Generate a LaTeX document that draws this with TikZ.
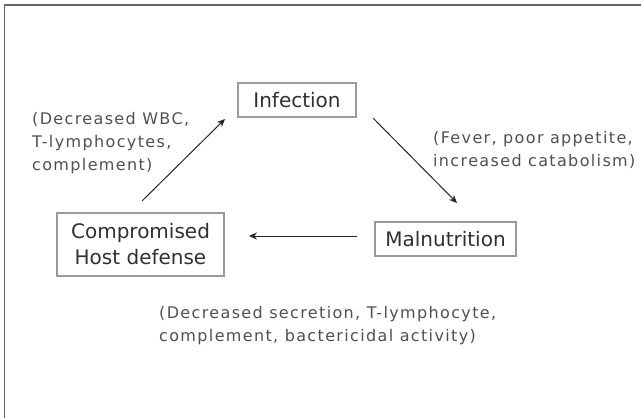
\documentclass[tikz,border=0pt]{standalone}
\usepackage{fontspec}
\setmainfont{DejaVu Sans}
\newfontfamily\notefont[LetterSpace=8.5]{DejaVu Sans}
\usetikzlibrary{arrows.meta}
\definecolor{labgray}{HTML}{303030}
\definecolor{notegray}{HTML}{505050}
\definecolor{boxgray}{HTML}{9A9A9A}
\definecolor{framegray}{HTML}{666666}
\tikzset{
  box/.style={draw=boxgray, line width=1.2pt, text=labgray, font=\fontsize{20}{26}\selectfont, align=center, inner sep=0pt},
  note/.style={text=notegray, font=\notefont\fontsize{16}{23}\selectfont, align=left, inner sep=0pt, anchor=north west},
  arr/.style={draw=black!85, line width=1pt, -{Stealth[length=8pt,width=7pt]}}
}
\begin{document}
\begin{tikzpicture}[x=1pt,y=-1pt]
\useasboundingbox (0,0) rectangle (641,418);
\draw[framegray, line width=1.5pt] (4.5,418) -- (4.5,5) -- (641,5);
\node[box, minimum width=118pt, minimum height=34pt] (inf) at (297,100) {Infection};
\node[box, minimum width=167pt, minimum height=63pt] (comp) at (140.5,244.5) {Compromised\\Host defense};
\node[box, minimum width=141pt, minimum height=34pt] (mal) at (445.5,239) {Malnutrition};
\coordinate (a1s) at (142,201);
\coordinate (a1e) at (225,119);
\coordinate (a2s) at (373,118);
\coordinate (a2e) at (457,203);
\coordinate (a3s) at (357,236);
\coordinate (a3e) at (249,236);
\draw[arr] (a1s) -- (a1e);
\draw[arr] (a2s) -- (a2e);
\draw[arr] (a3s) -- (a3e);
\node[note] (n1) at (32,112) {(Decreased WBC,\\T-lymphocytes,\\complement)};
\node[note] (n2) at (433,131) {(Fever, poor appetite,\\increased catabolism)};
\node[note] (n3) at (159,306) {(Decreased secretion, T-lymphocyte,\\complement, bactericidal activity)};
\end{tikzpicture}
\end{document}
